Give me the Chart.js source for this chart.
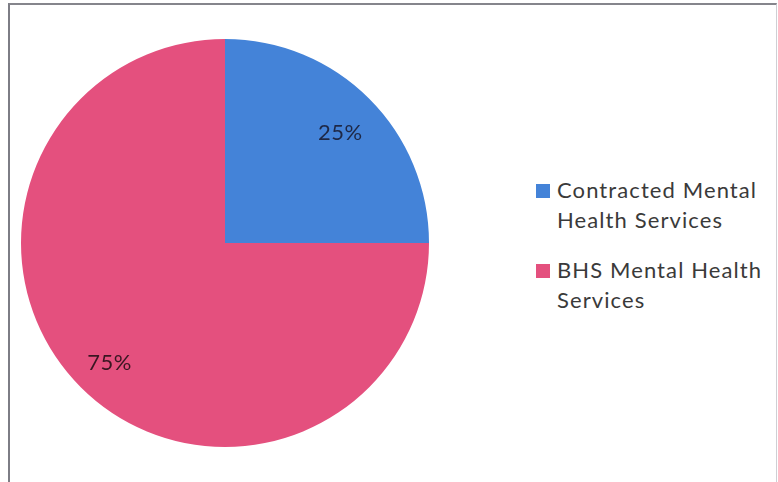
<!DOCTYPE html>
<html>
<head>
<meta charset="utf-8">
<script src="https://cdn.jsdelivr.net/npm/chart.js@4"></script>
<style>
    body { margin: 0; background: #fff; width: 778px; height: 482px; overflow: hidden; position: relative; font-family: Lato, "Open Sans", sans-serif; }
    .frame { position: absolute; left: 8px; top: 3px; width: 766px; height: 500px; border-left: 2px solid #7d7d85; border-top: 2px solid #85858c; border-right: 1px solid #cfcfd4; }
    .pie-box { position: absolute; left: 21px; top: 39px; width: 408px; height: 408px; }
    .legend { position: absolute; left: 536px; top: 175px; }
    .legend-item { position: relative; padding-left: 21px; font-size: 22px; letter-spacing: 1.1px; line-height: 30px; color: #3a3a3a; margin-bottom: 20px; }
    .legend-item .swatch { position: absolute; left: 0; top: 9px; width: 14px; height: 14px; }
</style>
</head>
<body>
<div class="frame"></div>
<div class="pie-box"><canvas id="pieChart"></canvas></div>
<div class="legend" id="legend"></div>
<script>
// Share of mental health services by provider
const categories = ['Contracted Mental Health Services', 'BHS Mental Health Services'];
const legendLines = [['Contracted Mental', 'Health Services'], ['BHS Mental Health', 'Services']];
const shares = [25, 75];
const colors = ['#4483d8', '#e4507e'];
const labelColors = ['#1e2846', '#3a1622'];

// Percent labels drawn inside each slice
const sliceLabels = {
    id: 'sliceLabels',
    afterDatasetsDraw(chart) {
        const ctx = chart.ctx;
        const meta = chart.getDatasetMeta(0);
        const total = shares.reduce((a, b) => a + b, 0);
        ctx.save();
        ctx.font = '22px Lato, "Open Sans", sans-serif';
        ctx.letterSpacing = '0.5px';
        ctx.textAlign = 'center';
        ctx.textBaseline = 'middle';
        meta.data.forEach((arc, i) => {
            const p = arc.getProps(['x', 'y', 'startAngle', 'endAngle', 'outerRadius'], true);
            const mid = (p.startAngle + p.endAngle) / 2;
            const r = p.outerRadius * 0.8;
            ctx.fillStyle = labelColors[i];
            ctx.fillText(Math.round(shares[i] / total * 100) + '%', p.x + Math.cos(mid) * r, p.y + Math.sin(mid) * r + 5);
        });
        ctx.restore();
    }
};

function renderPieChart() {
    const ctx = document.getElementById('pieChart');
    new Chart(ctx, {
        type: 'pie',
        data: {
            labels: categories,
            datasets: [{
                data: shares,
                backgroundColor: colors,
                borderWidth: 0
            }]
        },
        options: {
            responsive: true,
            maintainAspectRatio: false,
            animation: false,
            layout: { padding: 0 },
            plugins: {
                legend: { display: false },
                tooltip: { enabled: false }
            }
        },
        plugins: [sliceLabels]
    });
}

function renderLegend() {
    const box = document.getElementById('legend');
    legendLines.forEach((lines, i) => {
        const item = document.createElement('div');
        item.className = 'legend-item';
        const sw = document.createElement('span');
        sw.className = 'swatch';
        sw.style.background = colors[i];
        item.appendChild(sw);
        lines.forEach((t, j) => {
            if (j) item.appendChild(document.createElement('br'));
            item.appendChild(document.createTextNode(t));
        });
        box.appendChild(item);
    });
}

renderPieChart();
renderLegend();
</script>
</body>
</html>
